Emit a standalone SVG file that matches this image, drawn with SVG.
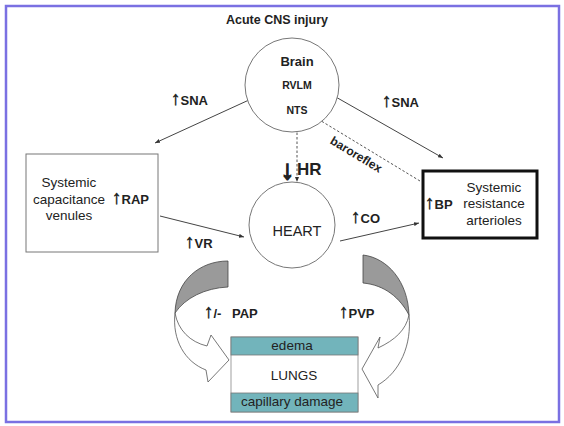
<svg xmlns="http://www.w3.org/2000/svg" width="564" height="426" viewBox="0 0 564 426">
<defs>
<style>
text{font-family:"Liberation Sans",Arial,sans-serif;fill:#222}
.b{font-weight:bold}
.lbl{font-size:13px;font-weight:bold}
.reg{font-size:13.5px}
.ar{font-family:"Liberation Sans",Arial,sans-serif;font-weight:bold;font-size:19px;stroke:#222;stroke-width:0.5}
.con{stroke:#444;stroke-width:1;fill:none}
.dash{stroke:#555;stroke-width:1;fill:none;stroke-dasharray:2.5,2}
.node{fill:#fff;stroke:#777;stroke-width:1}
.gray{fill:#9a9a9a;stroke:#444;stroke-width:0.8}
.white{fill:#fff;stroke:#555;stroke-width:0.8}
.teal{fill:#72b4bb;stroke:#777;stroke-width:0.8}
</style>
<marker id="ah" viewBox="0 0 10 10" refX="10" refY="5" markerWidth="5" markerHeight="5" markerUnits="userSpaceOnUse" orient="auto">
<path d="M0,1 L10,5 L0,9 z" fill="#333"/>
</marker>
</defs>
<rect x="0" y="0" width="564" height="426" fill="#fff"/>
<rect x="6" y="6" width="553" height="416" fill="none" stroke="#7a70e2" stroke-width="2.5"/>
<text x="277" y="24" class="b" font-size="12.5" text-anchor="middle">Acute CNS injury</text>

<g id="connectors">
<line class="con" x1="273" y1="89" x2="155" y2="143" marker-end="url(#ah)"/>
<line class="con" x1="320" y1="88" x2="443" y2="158" marker-end="url(#ah)"/>
<line class="dash" x1="297" y1="128" x2="297" y2="182" marker-end="url(#ah)"/>
<line class="dash" x1="420" y1="181" x2="313" y2="116" marker-end="url(#ah)"/>
<line class="con" x1="160" y1="216" x2="244" y2="237" marker-end="url(#ah)"/>
<line class="con" x1="340" y1="241" x2="419" y2="223" marker-end="url(#ah)"/>
</g>

<g id="brain">
<circle class="node" cx="292" cy="85" r="47"/>
<text x="297" y="66" class="b" font-size="13" text-anchor="middle">Brain</text>
<text x="297" y="89" class="b" font-size="10.5" text-anchor="middle">RVLM</text>
<text x="297" y="114" class="b" font-size="10.5" text-anchor="middle">NTS</text>
</g>

<g id="heart">
<circle class="node" cx="292" cy="225" r="43"/>
<text x="297" y="236" font-size="14.5" text-anchor="middle">HEART</text>
</g>

<g id="venules">
<rect class="node" x="26" y="154" width="132" height="98" stroke="#666"/>
<text class="reg" text-anchor="middle"><tspan x="69" y="187">Systemic</tspan><tspan x="69" y="204">capacitance</tspan><tspan x="69" y="220">venules</tspan></text>
<text x="112" y="204" class="lbl"><tspan class="ar">↑</tspan>RAP</text>
</g>

<g id="arterioles">
<rect x="423" y="171" width="114" height="67" fill="#fff" stroke="#111" stroke-width="3"/>
<text class="reg" text-anchor="middle"><tspan x="494" y="192">Systemic</tspan><tspan x="494" y="208">resistance</tspan><tspan x="494" y="225">arterioles</tspan></text>
<text x="425" y="209" class="lbl"><tspan class="ar">↑</tspan>BP</text>
</g>

<g id="lungs">
<rect x="231" y="337" width="127" height="75" fill="#fff" stroke="#888" stroke-width="0.8"/>
<rect class="teal" x="231" y="337" width="127" height="18"/>
<rect class="teal" x="231" y="393" width="127" height="19"/>
<text x="292" y="350" class="reg" text-anchor="middle">edema</text>
<text x="294" y="380" class="reg" text-anchor="middle">LUNGS</text>
<text x="292" y="406" class="reg" text-anchor="middle">capillary damage</text>
</g>

<g id="pap-arrow">
<path class="gray" d="M228,261 C200,261 176,280 175,313 C185,298 205,288 228,287 Z"/>
<path class="white" d="M175,313 C172,340 185,362 206,370 L208,382 L229,360 L211,335 L207,346 C190,342 178,330 175,313 Z"/>
</g>

<g id="pvp-arrow">
<path class="gray" d="M363,255 C388,258 408,282 409,315 C400,298 385,285 363,283 Z"/>
<path class="white" d="M409,315 C412,345 400,372 378,385 L378,398 L362,369 L380,337 L378,348 C395,340 406,330 409,315 Z"/>
</g>

<g id="labels">
<text x="171" y="105" class="lbl"><tspan class="ar">↑</tspan>SNA</text>
<text x="382" y="107" class="lbl"><tspan class="ar">↑</tspan>SNA</text>
<text x="287.5" y="179" class="ar" text-anchor="middle" style="font-size:27px;stroke-width:1.4">↓</text>
<text x="297" y="175" class="b" font-size="17">HR</text>
<text transform="translate(354,158) rotate(31)" x="0" y="0" class="b" font-size="12" text-anchor="middle">baroreflex</text>
<text x="185" y="248" class="lbl"><tspan class="ar">↑</tspan>VR</text>
<text x="351" y="223" class="lbl"><tspan class="ar">↑</tspan>CO</text>
<text x="204" y="318" class="lbl"><tspan class="ar">↑</tspan>/-  <tspan x="232">PAP</tspan></text>
<text x="339" y="318" class="lbl"><tspan class="ar">↑</tspan>PVP</text>
</g>
</svg>
